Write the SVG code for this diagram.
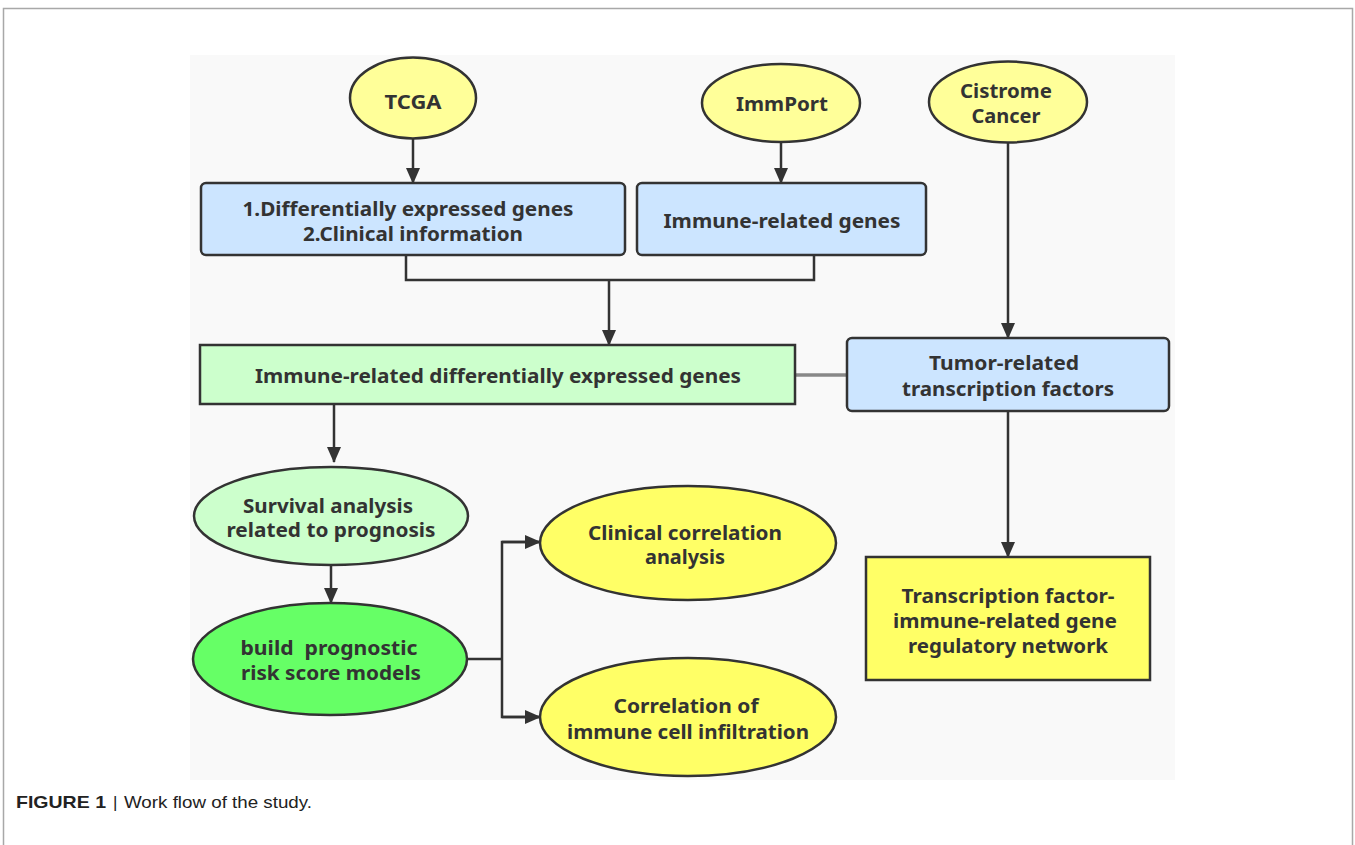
<svg xmlns="http://www.w3.org/2000/svg" width="1355" height="845" viewBox="0 0 1355 845">
<style>
.t{font-family:"Noto Sans","DejaVu Sans",sans-serif;font-weight:bold;font-size:19.5px;fill:#333;text-anchor:middle;white-space:pre}
.n{stroke:#333;stroke-width:2.5}
.c{fill:none;stroke:#333;stroke-width:2.5}
.cap{font-family:"Liberation Sans",Arial,sans-serif;font-size:17px;fill:#222}
</style>
<defs>
<marker id="ah" markerUnits="userSpaceOnUse" markerWidth="16" markerHeight="16" viewBox="0 0 16 16" refX="15" refY="8" orient="auto">
<path d="M0,1 L16,8 L0,15 Z" fill="#333"/>
</marker>
</defs>
<rect x="0" y="0" width="1355" height="845" fill="#fff"/>
<path d="M3.5,850 V8.5 H1352.5 V850" fill="none" stroke="#a8a8a8" stroke-width="1.5"/>
<rect x="190" y="55" width="985" height="725" fill="#f9f9f9"/>

<g id="connectors">
<line class="c" x1="413" y1="139" x2="413" y2="183" marker-end="url(#ah)"/>
<line class="c" x1="781" y1="142" x2="781" y2="183" marker-end="url(#ah)"/>
<line class="c" x1="1008" y1="143" x2="1008" y2="338" marker-end="url(#ah)"/>
<polyline class="c" points="406,255 406,280 814,280 814,255"/>
<line class="c" x1="609" y1="280" x2="609" y2="345" marker-end="url(#ah)"/>
<line x1="796" y1="375" x2="847" y2="375" stroke="#888" stroke-width="3.5"/>
<line class="c" x1="1008" y1="412" x2="1008" y2="557" marker-end="url(#ah)"/>
<line class="c" x1="334" y1="404" x2="334" y2="462" marker-end="url(#ah)"/>
<line class="c" x1="331" y1="565" x2="331" y2="603" marker-end="url(#ah)"/>
<polyline class="c" points="467,659 502,659"/>
<polyline class="c" points="540,542 502,542 502,717 540,717"/>
<line class="c" x1="502" y1="542" x2="540" y2="542" marker-end="url(#ah)"/>
<line class="c" x1="502" y1="717" x2="540" y2="717" marker-end="url(#ah)"/>
</g>

<g id="tcga">
<ellipse class="n" cx="413" cy="98" rx="63" ry="40.5" fill="#ffff99" stroke="#111" stroke-width="3"/>
<text class="t" x="413" y="109" textLength="57" lengthAdjust="spacingAndGlyphs">TCGA</text>
</g>
<g id="immport">
<ellipse class="n" cx="781" cy="103" rx="79" ry="39" fill="#ffff99"/>
<text class="t" x="782" y="111" textLength="92" lengthAdjust="spacingAndGlyphs">ImmPort</text>
</g>
<g id="cistrome">
<ellipse class="n" cx="1008" cy="102" rx="79" ry="40.5" fill="#ffff99"/>
<text class="t" x="1006" y="98" textLength="92" lengthAdjust="spacingAndGlyphs">Cistrome</text>
<text class="t" x="1006" y="123" textLength="69" lengthAdjust="spacingAndGlyphs">Cancer</text>
</g>
<g id="deg">
<rect class="n" x="201" y="183" width="424" height="72" rx="5" fill="#cce5ff"/>
<text class="t" x="408" y="216" textLength="331" lengthAdjust="spacingAndGlyphs">1.Differentially expressed genes</text>
<text class="t" x="413" y="241" textLength="220" lengthAdjust="spacingAndGlyphs">2.Clinical information</text>
</g>
<g id="irg">
<rect class="n" x="637" y="183" width="289" height="72" rx="5" fill="#cce5ff"/>
<text class="t" x="782" y="228" textLength="237" lengthAdjust="spacingAndGlyphs">Immune-related genes</text>
</g>
<g id="irdeg">
<rect class="n" x="200" y="345" width="595" height="59" fill="#ccffcc"/>
<text class="t" x="498" y="383" textLength="486" lengthAdjust="spacingAndGlyphs">Immune-related differentially expressed genes</text>
</g>
<g id="tf">
<rect class="n" x="847" y="338" width="322" height="73" rx="5" fill="#cce5ff"/>
<text class="t" x="1004" y="370" textLength="150" lengthAdjust="spacingAndGlyphs">Tumor-related</text>
<text class="t" x="1008" y="396" textLength="212" lengthAdjust="spacingAndGlyphs">transcription factors</text>
</g>
<g id="network">
<rect class="n" x="866" y="557" width="284" height="123" fill="#ffff66" stroke-width="3"/>
<text class="t" x="1008" y="603" textLength="213" lengthAdjust="spacingAndGlyphs">Transcription factor-</text>
<text class="t" x="1005" y="628" textLength="224" lengthAdjust="spacingAndGlyphs">immune-related gene</text>
<text class="t" x="1008" y="653" textLength="200" lengthAdjust="spacingAndGlyphs">regulatory network</text>
</g>
<g id="survival">
<ellipse class="n" cx="331" cy="516" rx="137" ry="49" fill="#ccffcc"/>
<text class="t" x="328" y="513" textLength="170" lengthAdjust="spacingAndGlyphs">Survival analysis</text>
<text class="t" x="331" y="537" textLength="209" lengthAdjust="spacingAndGlyphs">related to prognosis</text>
</g>
<g id="build">
<ellipse class="n" cx="330" cy="659" rx="137" ry="56" fill="#66ff66"/>
<text class="t" x="329" y="655" textLength="177" lengthAdjust="spacingAndGlyphs" xml:space="preserve">build  prognostic</text>
<text class="t" x="331" y="680" textLength="180" lengthAdjust="spacingAndGlyphs">risk score models</text>
</g>
<g id="clinical">
<ellipse class="n" cx="688" cy="543" rx="148" ry="57" fill="#ffff66"/>
<text class="t" x="685" y="540" textLength="194" lengthAdjust="spacingAndGlyphs">Clinical correlation</text>
<text class="t" x="685" y="564" textLength="80" lengthAdjust="spacingAndGlyphs">analysis</text>
</g>
<g id="infiltration">
<ellipse class="n" cx="688" cy="717" rx="148" ry="59" fill="#ffff66"/>
<text class="t" x="686" y="713" textLength="145" lengthAdjust="spacingAndGlyphs">Correlation of</text>
<text class="t" x="688" y="739" textLength="242" lengthAdjust="spacingAndGlyphs">immune cell infiltration</text>
</g>
<g id="caption">
<text class="cap" x="16" y="808" font-weight="bold" textLength="90" lengthAdjust="spacingAndGlyphs">FIGURE 1</text>
<text class="cap" x="113" y="808" fill="#555">|</text>
<text class="cap" x="124" y="808" textLength="188" lengthAdjust="spacingAndGlyphs">Work flow of the study.</text>
</g>
</svg>
